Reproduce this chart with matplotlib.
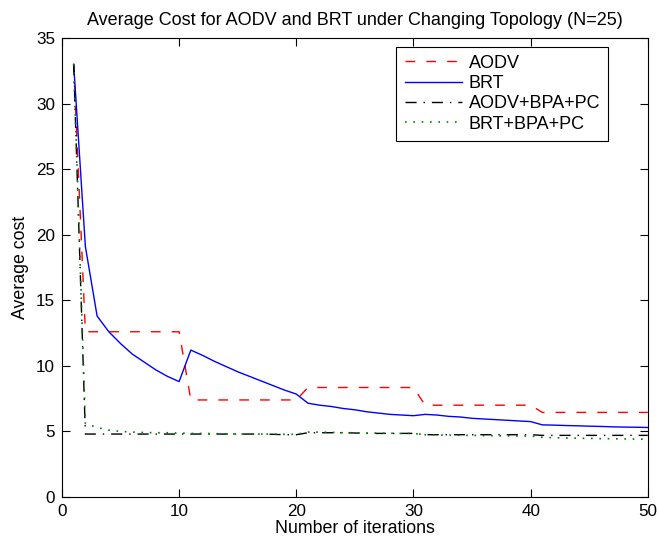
import matplotlib
matplotlib.use('Agg')
import matplotlib.pyplot as plt
import numpy as np

plt.rcParams['font.family'] = ['Liberation Sans', 'DejaVu Sans']

iters = np.arange(1, 51)

aodv = [33.0, 12.6, 12.6, 12.6, 12.6, 12.6, 12.6, 12.6, 12.6, 12.6,
        7.4, 7.4, 7.4, 7.4, 7.4, 7.4, 7.4, 7.4, 7.4, 7.4,
        8.35, 8.35, 8.35, 8.35, 8.35, 8.35, 8.35, 8.35, 8.35, 8.35,
        7.0, 7.0, 7.0, 7.0, 7.0, 7.0, 7.0, 7.0, 7.0, 7.0,
        6.45, 6.45, 6.45, 6.45, 6.45, 6.45, 6.45, 6.45, 6.45, 6.45]

brt = [33.0, 19.1, 13.8, 12.6, 11.7, 10.9, 10.3, 9.7, 9.2, 8.8,
       11.2, 10.8, 10.35, 9.95, 9.55, 9.2, 8.85, 8.5, 8.15, 7.85,
       7.15, 7.0, 6.9, 6.75, 6.65, 6.5, 6.4, 6.3, 6.25, 6.2,
       6.3, 6.25, 6.15, 6.1, 6.0, 5.95, 5.9, 5.85, 5.8, 5.75,
       5.5, 5.48, 5.45, 5.43, 5.4, 5.38, 5.35, 5.33, 5.32, 5.3]

aodv_bpa = [33.0, 4.8, 4.8, 4.8, 4.8, 4.8, 4.8, 4.8, 4.8, 4.8,
            4.8, 4.8, 4.8, 4.8, 4.8, 4.8, 4.8, 4.78, 4.75, 4.75,
            4.9, 4.9, 4.9, 4.9, 4.88, 4.85, 4.85, 4.85, 4.85, 4.85,
            4.75, 4.75, 4.75, 4.75, 4.75, 4.75, 4.75, 4.75, 4.75, 4.75,
            4.7, 4.7, 4.7, 4.7, 4.7, 4.7, 4.7, 4.7, 4.7, 4.7]

brt_bpa = [33.0, 5.6, 5.3, 5.1, 5.0, 4.95, 4.92, 4.9, 4.9, 4.88,
           4.85, 4.85, 4.83, 4.82, 4.8, 4.8, 4.8, 4.8, 4.78, 4.78,
           4.95, 4.95, 4.93, 4.9, 4.9, 4.88, 4.87, 4.86, 4.85, 4.85,
           4.75, 4.73, 4.72, 4.7, 4.7, 4.68, 4.67, 4.66, 4.65, 4.65,
           4.55, 4.52, 4.5, 4.48, 4.47, 4.45, 4.44, 4.43, 4.42, 4.4]

fig = plt.figure(figsize=(6.59, 5.42), dpi=100)
ax = fig.add_axes([0.094, 0.083, 0.889, 0.847])

ax.plot(iters, aodv, color='red', linestyle=(0, (7, 8)), linewidth=1.0, label='AODV')
ax.plot(iters, brt, color='blue', linestyle='-', linewidth=1.0, label='BRT')
ax.plot(iters, aodv_bpa, color='black', linestyle=(0, (8, 5, 1, 5)), linewidth=1.0, label='AODV+BPA+PC')
ax.plot(iters, brt_bpa, color=(0, 0.5, 0), linestyle=(0, (1, 4)), linewidth=1.2, label='BRT+BPA+PC')

ax.set_xlim(0, 50)
ax.set_ylim(0, 35)
ax.set_xticks(range(0, 51, 10))
ax.set_yticks(range(0, 36, 5))
ax.tick_params(direction='in', top=True, right=True, labelsize=12.3, length=6, pad=5)
ax.set_xlabel('Number of iterations', fontsize=12.8, labelpad=1)
ax.set_ylabel('Average cost', fontsize=12.8, labelpad=5)
ax.set_title('Average Cost for AODV and BRT under Changing Topology (N=25)', fontsize=13, pad=9)

leg = ax.legend(loc='upper left', bbox_to_anchor=(0.571, 0.981), fontsize=13,
                handlelength=3.2, fancybox=False, edgecolor='black',
                borderpad=0.45, labelspacing=0.18, handletextpad=0.35, framealpha=1,
                borderaxespad=0)
leg.get_frame().set_linewidth(0.8)

plt.savefig('out.png', dpi=100)
